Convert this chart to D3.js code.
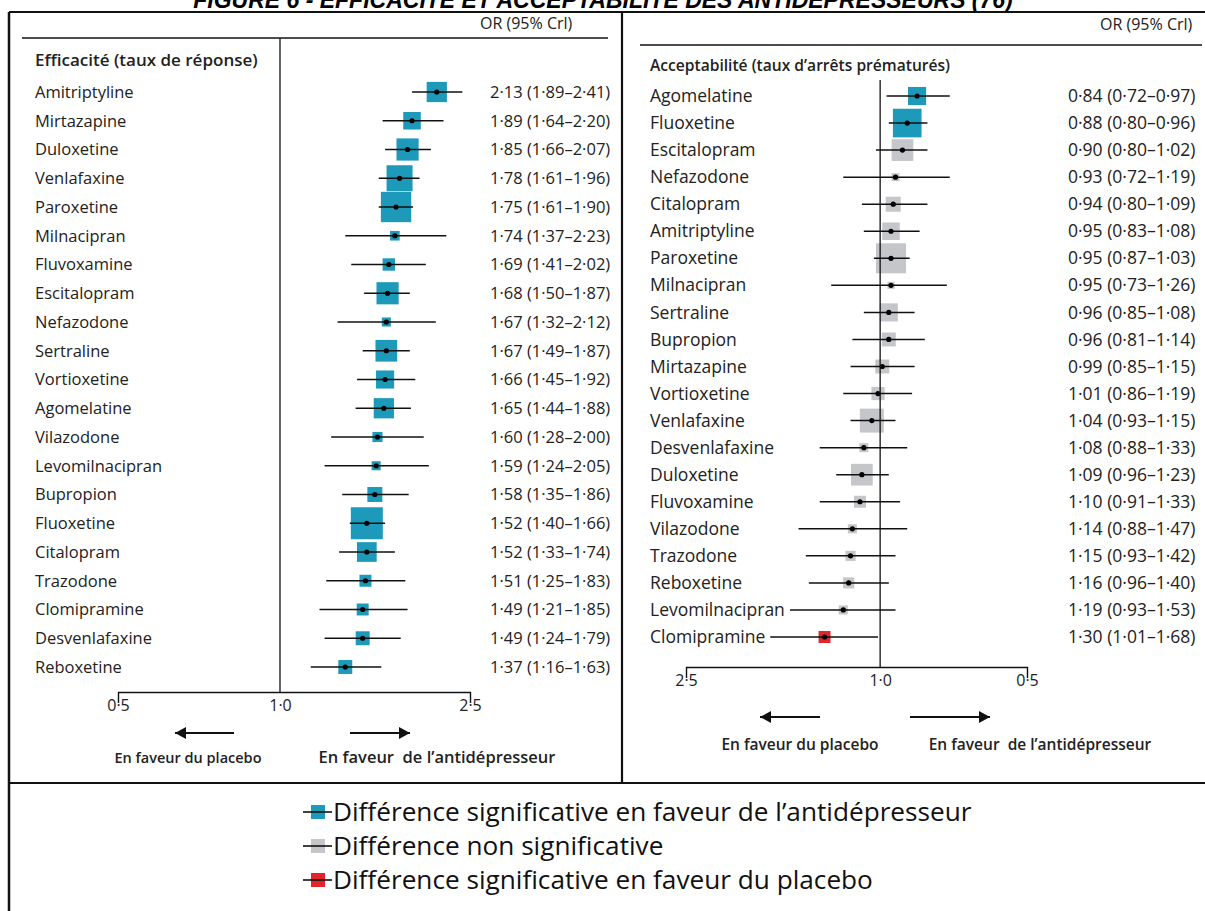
<!DOCTYPE html>
<html>
<head>
<meta charset="utf-8">
<script src="https://cdn.jsdelivr.net/npm/d3@7"></script>
<style>
  body { margin: 0; background: #fff; }
  text { font-family: "Open Sans", "Noto Sans", sans-serif; fill: #222; }
</style>
</head>
<body>
<script>
// --- Efficacité (taux de réponse) ---
var effMedicaments = ["Amitriptyline", "Mirtazapine", "Duloxetine", "Venlafaxine", "Paroxetine", "Milnacipran",
    "Fluvoxamine", "Escitalopram", "Nefazodone", "Sertraline", "Vortioxetine", "Agomelatine", "Vilazodone",
    "Levomilnacipran", "Bupropion", "Fluoxetine", "Citalopram", "Trazodone", "Clomipramine", "Desvenlafaxine", "Reboxetine"];
var effOR    = [2.13, 1.89, 1.85, 1.78, 1.75, 1.74, 1.69, 1.68, 1.67, 1.67, 1.66, 1.65, 1.60, 1.59, 1.58, 1.52, 1.52, 1.51, 1.49, 1.49, 1.37];
var effBasse = [1.89, 1.64, 1.66, 1.61, 1.61, 1.37, 1.41, 1.50, 1.32, 1.49, 1.45, 1.44, 1.28, 1.24, 1.35, 1.40, 1.33, 1.25, 1.21, 1.24, 1.16];
var effHaute = [2.41, 2.20, 2.07, 1.96, 1.90, 2.23, 2.02, 1.87, 2.12, 1.87, 1.92, 1.88, 2.00, 2.05, 1.86, 1.66, 1.74, 1.83, 1.85, 1.79, 1.63];
var effPoids = [0.40, 0.30, 0.48, 0.66, 0.90, 0.09, 0.15, 0.48, 0.08, 0.46, 0.32, 0.40, 0.10, 0.08, 0.22, 1.00, 0.38, 0.14, 0.14, 0.19, 0.19];
var effSignif = ["ad", "ad", "ad", "ad", "ad", "ad", "ad", "ad", "ad", "ad", "ad", "ad", "ad", "ad", "ad", "ad", "ad", "ad", "ad", "ad", "ad"];
var effTicks = [0.5, 1.0, 2.5];

// --- Acceptabilité (taux d'arrêts prématurés) ---
var accMedicaments = ["Agomelatine", "Fluoxetine", "Escitalopram", "Nefazodone", "Citalopram", "Amitriptyline", "Paroxetine",
    "Milnacipran", "Sertraline", "Bupropion", "Mirtazapine", "Vortioxetine", "Venlafaxine", "Desvenlafaxine", "Duloxetine",
    "Fluvoxamine", "Vilazodone", "Trazodone", "Reboxetine", "Levomilnacipran", "Clomipramine"];
var accOR    = [0.84, 0.88, 0.90, 0.93, 0.94, 0.95, 0.95, 0.95, 0.96, 0.96, 0.99, 1.01, 1.04, 1.08, 1.09, 1.10, 1.14, 1.15, 1.16, 1.19, 1.30];
var accBasse = [0.72, 0.80, 0.80, 0.72, 0.80, 0.83, 0.87, 0.73, 0.85, 0.81, 0.85, 0.86, 0.93, 0.88, 0.96, 0.91, 0.88, 0.93, 0.96, 0.93, 1.01];
var accHaute = [0.97, 0.96, 1.02, 1.19, 1.09, 1.08, 1.03, 1.26, 1.08, 1.14, 1.15, 1.19, 1.15, 1.33, 1.23, 1.33, 1.47, 1.42, 1.40, 1.53, 1.68];
var accPoids = [0.32, 0.80, 0.46, 0.06, 0.22, 0.30, 0.88, 0.05, 0.32, 0.19, 0.19, 0.17, 0.56, 0.08, 0.46, 0.14, 0.08, 0.10, 0.12, 0.08, 0.14];
var accSignif = ["ad", "ad", "ns", "ns", "ns", "ns", "ns", "ns", "ns", "ns", "ns", "ns", "ns", "ns", "ns", "ns", "ns", "ns", "ns", "ns", "pl"];
var accTicks = [2.5, 1.0, 0.5];

var legendeCles = ["ad", "ns", "pl"];
var legendeTextes = ["Différence significative en faveur de l\u2019antidépresseur", "Différence non significative", "Différence significative en faveur du placebo"];

function ForestPlotFigure() {
    var width = 1205, height = 911;
    var _svg = undefined;
    var _couleurs = { ad: "#1d9ab9", ns: "#c4c6c9", pl: "#e0262b" };
    var _side = d3.scaleSqrt().domain([0, 1]).range([0, 32]);

    var _fmt = function(v) {
        return d3.format(".2f")(v).replace(".", "\u00b7");
    };//EndFunction.

    var _line = function(x1, y1, x2, y2, w) {
        return _svg.append("line").attr("x1", x1).attr("y1", y1).attr("x2", x2).attr("y2", y2)
            .style("stroke", "#111").style("stroke-width", w || 1.5);
    };//EndFunction.

    var _arrow = function(x1, x2, y) {
        _line(x1, y, x2, y, 1.8);
        var dir = x2 > x1 ? 1 : -1;
        _svg.append("path").attr("d", "M" + x2 + "," + y + " l" + (-dir * 11) + ",-6 l0,12 Z").style("fill", "#111");
    };//EndFunction.

    var _panel = function(cfg) {
        var g = _svg.append("g");
        var y = d3.scalePoint().domain(cfg.noms).range(cfg.yRange);
        var x = cfg.x;
        var fs = cfg.fontSize + "px";

        // header
        g.append("text").text("OR (95% Crl)").attr("x", cfg.orX).attr("y", cfg.orY).attr("font-size", "16px");
        _line(cfg.hdr[0], cfg.hdrY, cfg.hdr[1], cfg.hdrY, 1.3);
        g.append("text").text(cfg.titre).attr("x", cfg.labelX).attr("y", cfg.titreY)
            .attr("font-size", cfg.titreSize + "px").attr("font-weight", 600);

        // reference line at OR = 1
        _line(x(1), cfg.refTop, x(1), cfg.axisY, 1.3);

        var rows = cfg.noms.map(function(n, i) {
            return { nom: n, or: cfg.or[i], lo: cfg.lo[i], hi: cfg.hi[i], poids: cfg.poids[i], sig: cfg.sig[i] };
        });

        var r = g.selectAll("g.row").data(rows).enter().append("g").attr("class", "row");
        r.append("text").text(function(d) { return d.nom; }).attr("x", cfg.labelX)
            .attr("y", function(d) { return y(d.nom); }).attr("dy", "0.35em").attr("font-size", fs);
        r.append("rect")
            .attr("x", function(d) { return x(d.or) - _side(d.poids) / 2; })
            .attr("y", function(d) { return y(d.nom) - _side(d.poids) / 2; })
            .attr("width", function(d) { return _side(d.poids); })
            .attr("height", function(d) { return _side(d.poids); })
            .style("fill", function(d) { return _couleurs[d.sig]; });
        r.append("line")
            .attr("x1", function(d) { return x(d.lo); }).attr("x2", function(d) { return x(d.hi); })
            .attr("y1", function(d) { return y(d.nom); }).attr("y2", function(d) { return y(d.nom); })
            .style("stroke", "#111").style("stroke-width", 1.5);
        r.append("circle").attr("cx", function(d) { return x(d.or); }).attr("cy", function(d) { return y(d.nom); })
            .attr("r", 2.6).style("fill", "#000");
        r.append("text").text(function(d) { return _fmt(d.or) + " (" + _fmt(d.lo) + "\u2013" + _fmt(d.hi) + ")"; })
            .attr("x", cfg.valX).attr("y", function(d) { return y(d.nom); }).attr("dy", "0.35em").attr("font-size", fs);

        // axis (bracket shape from the outer ticks)
        var ax = d3.axisBottom(x).tickValues(cfg.ticks).tickSizeInner(0).tickSizeOuter(11).tickPadding(8)
            .tickFormat(function(v) { return d3.format(".1f")(v).replace(".", "\u00b7"); });
        var axg = g.append("g").attr("transform", "translate(0," + cfg.axisY + ")").call(ax);
        axg.select(".domain").style("stroke", "#111").style("stroke-width", 1.4);
        axg.selectAll("text").attr("font-size", "16px").style("font-family", "'Open Sans', sans-serif").style("fill", "#222");

        // direction arrows
        _arrow(cfg.arrL[0], cfg.arrL[1], cfg.arrY);
        _arrow(cfg.arrR[0], cfg.arrR[1], cfg.arrY);
        g.append("text").text("En faveur du placebo").attr("x", cfg.txtL).attr("y", cfg.txtY)
            .attr("text-anchor", "middle").attr("font-size", cfg.txtSize[0] + "px").attr("font-weight", 600);
        g.append("text").text("En faveur\u00a0 de l\u2019antidépresseur").attr("x", cfg.txtR).attr("y", cfg.txtY)
            .attr("text-anchor", "middle").attr("font-size", cfg.txtSize[1] + "px").attr("font-weight", 600);
    };//EndFunction.

    var _legende = function() {
        var y = d3.scalePoint().domain(legendeCles).range([812, 880]);
        var g = _svg.append("g");
        var it = g.selectAll("g").data(legendeCles).enter().append("g")
            .attr("transform", function(d) { return "translate(0," + y(d) + ")"; });
        it.append("rect").attr("x", 311).attr("y", -7).attr("width", 14).attr("height", 14)
            .style("fill", function(d) { return _couleurs[d]; });
        it.append("line").attr("x1", 303).attr("x2", 332).attr("y1", 0).attr("y2", 0)
            .style("stroke", "#111").style("stroke-width", 1.6);
        it.append("text").text(function(d, i) { return legendeTextes[i]; }).attr("x", 333).attr("y", 0)
            .attr("dy", "0.36em").attr("font-size", "26.2px").style("fill", "#111");
    };//EndFunction.

    function build() {
        _svg = d3.select("body").append("svg").attr("width", width).attr("height", height);

        _svg.append("text").text("FIGURE 6 - EFFICACITÉ ET ACCEPTABILITÉ DES ANTIDÉPRESSEURS (76)")
            .attr("x", 603).attr("y", 8).attr("text-anchor", "middle")
            .style("font-family", "'Liberation Sans', Arial, sans-serif").style("font-weight", "bold")
            .style("font-style", "italic").style("font-size", "23px").style("fill", "#000");

        // frame
        _line(9, 12, 1205, 12, 2);
        _line(9, 12, 9, 911, 2.5);
        _line(622, 12, 622, 783, 2.2);
        _line(9, 783, 1205, 783, 2.2);

        _panel({
            noms: effMedicaments, or: effOR, lo: effBasse, hi: effHaute, poids: effPoids, sig: effSignif, ticks: effTicks,
            x: d3.scaleLog().domain([0.5, 1, 2.5]).range([118, 280, 470]),
            yRange: [92, 667], titre: "Efficacité (taux de réponse)", titreY: 66, titreSize: 17, fontSize: 16.5,
            labelX: 35, valX: 490, orX: 480, orY: 29, hdr: [22, 608], hdrY: 38, refTop: 38, axisY: 692,
            arrL: [234, 175], arrR: [350, 410], arrY: 733, txtL: 188, txtR: 437, txtY: 763, txtSize: [14.5, 16.5]
        });

        _panel({
            noms: accMedicaments, or: accOR, lo: accBasse, hi: accHaute, poids: accPoids, sig: accSignif, ticks: accTicks,
            x: d3.scaleLog().domain([2.5, 0.5]).range([686, 1027]),
            yRange: [96, 637], titre: "Acceptabilit\u00e9 (taux d\u2019arr\u00eats pr\u00e9matur\u00e9s)", titreY: 71, titreSize: 15.6, fontSize: 17.5,
            labelX: 650, valX: 1068, orX: 1100, orY: 30, hdr: [640, 1202], hdrY: 45, refTop: 80, axisY: 667,
            arrL: [820, 760], arrR: [910, 990], arrY: 717, txtL: 800, txtR: 1040, txtY: 750, txtSize: [15.5, 15.5]
        });

        _legende();
    }//EndFunction.

    return build;
}//EndVizLibrary.

ForestPlotFigure()();
</script>
</body>
</html>
